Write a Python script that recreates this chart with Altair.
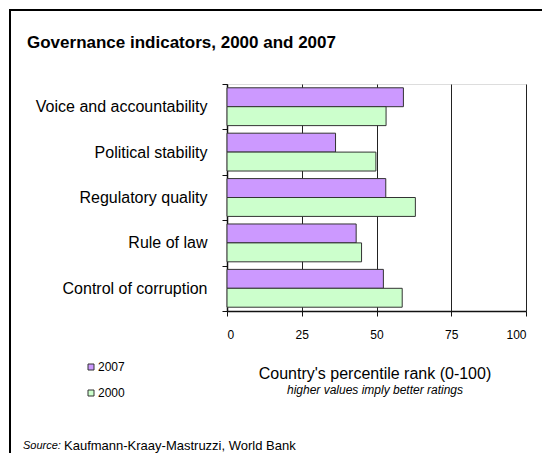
import altair as alt
import pandas as pd

categories = ["Voice and accountability", "Political stability", "Regulatory quality",
              "Rule of law", "Control of corruption"]
values_2007 = [59.0, 36.3, 53.1, 43.2, 52.3]
values_2000 = [53.2, 49.8, 63.0, 45.0, 58.6]
years = ["2007", "2000"]
colors = ["#CC99FF", "#CCFFCC"]
x_ticks = [0, 25, 50, 75, 100]

rows = []
for c, a, b in zip(categories, values_2007, values_2000):
    rows.append({"indicator": c, "year": "2007", "value": a})
    rows.append({"indicator": c, "year": "2000", "value": b})
df = pd.DataFrame(rows)

FONT = "Liberation Sans"

bars = alt.Chart(df).mark_bar(stroke="#333333", strokeWidth=1).encode(
    x=alt.X("value:Q", scale=alt.Scale(domain=[0, 100], nice=False),
            axis=alt.Axis(values=x_ticks, title=None, grid=True, gridColor="#222222",
                          gridWidth=1, domainColor="#111111", domainWidth=1.5,
                          tickColor="#111111", tickSize=5, labelFontSize=12,
                          labelPadding=13, labelFont=FONT, labelColor="#000000")),
    y=alt.Y("indicator:N", sort=categories,
            scale=alt.Scale(paddingInner=0, paddingOuter=0),
            axis=alt.Axis(title=None, tickBand="extent", domainColor="#111111",
                          domainWidth=1.5, tickColor="#111111", tickSize=5,
                          labelFontSize=16, labelPadding=15, labelFont=FONT,
                          labelColor="#000000", labelLimit=300)),
    yOffset=alt.YOffset("year:N", sort=years, scale=alt.Scale(paddingOuter=0.2, paddingInner=0)),
    color=alt.Color("year:N", sort=years,
                    scale=alt.Scale(domain=years, range=colors),
                    legend=alt.Legend(title=None, orient="none", legendX=-142, legendY=277,
                                      symbolType="square", symbolSize=36,
                                      symbolStrokeColor="#333333", symbolStrokeWidth=1,
                                      labelFontSize=12, labelFont=FONT, rowPadding=14,
                                      labelOffset=1)),
)

def txt(text, x, y, size, **kw):
    return alt.Chart(pd.DataFrame({"t": [text]})).mark_text(
        text=text, fontSize=size, font=FONT, color="#000000", **kw
    ).encode(x=alt.value(x), y=alt.value(y))

title = txt("Governance indicators, 2000  and 2007", -200, -36, 17,
            fontWeight="bold", align="left", baseline="alphabetic")
axis_title = txt("Country's percentile rank (0-100)", 148, 290, 16, align="center", baseline="middle")
sub_title = txt("higher values imply better ratings", 148, 306, 12, fontStyle="italic",
                align="center", baseline="middle")
src1 = txt("Source:", -204, 362, 11, fontStyle="italic", align="left", baseline="middle")
src2 = txt("Kaufmann-Kraay-Mastruzzi,  World Bank", -163, 362, 13, align="left", baseline="middle")

frame_top = alt.Chart(pd.DataFrame({"t": [0]})).mark_rule(
    color="#000000", strokeWidth=2
).encode(x=alt.value(-218), x2=alt.value(320), y=alt.value(-74))
frame_left = alt.Chart(pd.DataFrame({"t": [0]})).mark_rule(
    color="#000000", strokeWidth=2
).encode(x=alt.value(-217), y=alt.value(-75), y2=alt.value(375))

chart = alt.layer(frame_top, frame_left, bars, title, axis_title, sub_title, src1, src2).properties(
    width=299, height=227,
    autosize=alt.AutoSizeParams(type="none"),
    padding={"left": 219, "top": 76, "right": 16, "bottom": 142},
).configure_view(stroke="#999999", strokeWidth=1).configure(background="white")

chart.save("out.html", embed_options={"renderer": "svg", "actions": False})
